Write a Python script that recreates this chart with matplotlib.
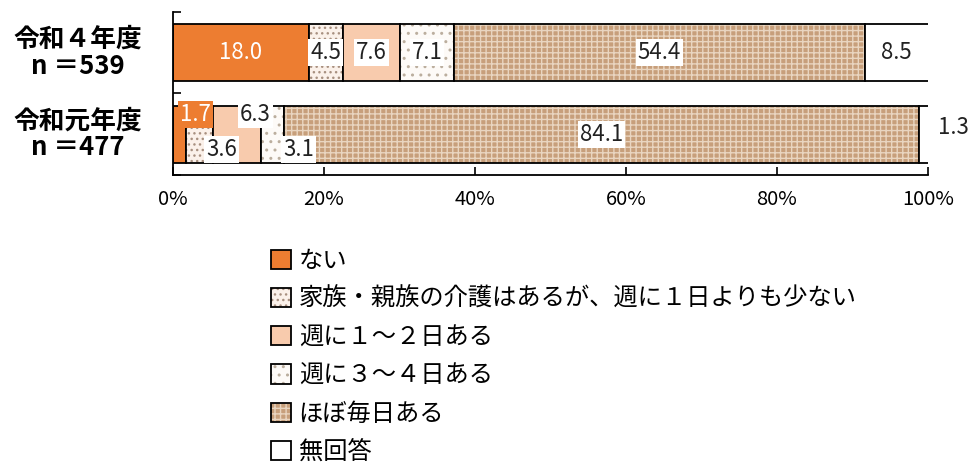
import matplotlib
matplotlib.use("Agg")
import matplotlib.pyplot as plt
from matplotlib.patches import Patch
from matplotlib.legend_handler import HandlerTuple

plt.rcParams["font.family"] = ["Noto Sans CJK JP", "DejaVu Sans"]
plt.rcParams["hatch.linewidth"] = 1.0

categories = ["令和４年度\nn ＝539", "令和元年度\nn ＝477"]
series = ["ない", "家族・親族の介護はあるが、週に１日よりも少ない", "週に１～２日ある",
          "週に３～４日ある", "ほぼ毎日ある", "無回答"]
r4_values = [18.0, 4.5, 7.6, 7.1, 54.4, 8.5]
r1_values = [1.7, 3.6, 6.3, 3.1, 84.1, 1.3]
ticks = [0, 20, 40, 60, 80, 100]

faces = ["#ED7D31", "#FBF1EA", "#F8CBAD", "#FDFAF7", "#C79F7B", "#FFFFFF"]
hatches = [None, "...", None, "..", "+++", None]
hatch_colors = ["#ED7D31", "#A89080", "#F8CBAD", "#BBAE9E", "#E9D5C0", "#FFFFFF"]

# label offsets for the crowded second row (dx in %, dy in row units)
r1_offsets = [(2.15, -0.24), (2.9, 0.19), (2.45, -0.24), (3.45, 0.19), (0, 0), (3.9, -0.08)]


fig = plt.figure(figsize=(9.79, 4.67), dpi=100)
ax = fig.add_axes([0.1767, 0.6253, 0.7712, 0.349])

rows = [r4_values, r1_values]
bar_h = 0.70
for row, values in enumerate(rows):
    left = 0
    for i, v in enumerate(values):
        ax.barh(row, v, left=left, height=bar_h, color=faces[i], hatch=hatches[i],
                edgecolor=hatch_colors[i], linewidth=0)
        ax.barh(row, v, left=left, height=bar_h, facecolor="none",
                edgecolor="black", linewidth=1.3)
        cx = left + v / 2
        cy = row
        if row == 1:
            cx += r1_offsets[i][0]
            cy += r1_offsets[i][1]
        if i == 0:
            box = None if row == 0 else dict(facecolor="#ED7D31", edgecolor="none", pad=1.5)
            ax.text(cx, cy, f"{v:.1f}", ha="center", va="center", fontsize=16,
                    color="white", bbox=box, zorder=5)
        elif row == 1 and i == 5:
            ax.text(cx, cy, f"{v:.1f}", ha="center", va="center", fontsize=16,
                    color="#222222", zorder=5, clip_on=False)
        else:
            ax.text(cx, cy, f"{v:.1f}", ha="center", va="center", fontsize=16,
                    color="#222222", zorder=5,
                    bbox=dict(facecolor="white", edgecolor="none", pad=1.5))
        left += v

ax.set_xlim(0, 100)
ax.set_ylim(1.5, -0.5)
ax.set_xticks(ticks)
ax.set_xticklabels([f"{t}%" for t in ticks], fontsize=14.5)
ax.tick_params(axis="x", direction="in", length=6, width=1.2, pad=10)
ax.set_yticks([-0.5, 0.5, 1.5])
ax.set_yticklabels([])
ax.tick_params(axis="y", direction="in", length=6, width=1.2)
for side in ["top", "right"]:
    ax.spines[side].set_visible(False)
for side in ["left", "bottom"]:
    ax.spines[side].set_linewidth(1.3)

for row, label in enumerate(categories):
    ax.text(-0.126, 1 - (row + 0.5) / 2, label, transform=ax.transAxes, ha="center",
            va="center", fontsize=18.5, fontweight="bold", linespacing=1.0)

handles = []
for i in range(len(series)):
    fill = Patch(facecolor=faces[i], hatch=hatches[i], edgecolor=hatch_colors[i], linewidth=0)
    edge = Patch(facecolor="none", edgecolor="black", linewidth=1.3)
    handles.append((fill, edge))
fig.legend(handles, series, handler_map={tuple: HandlerTuple(ndivide=1, pad=0)},
           loc="upper left", bbox_to_anchor=(0.277, 0.469), frameon=False,
           fontsize=17.5, handlelength=0.83, handleheight=0.83, handletextpad=0.3,
           labelspacing=0.5, borderpad=0, borderaxespad=0)

fig.savefig("out.png", dpi=100)
